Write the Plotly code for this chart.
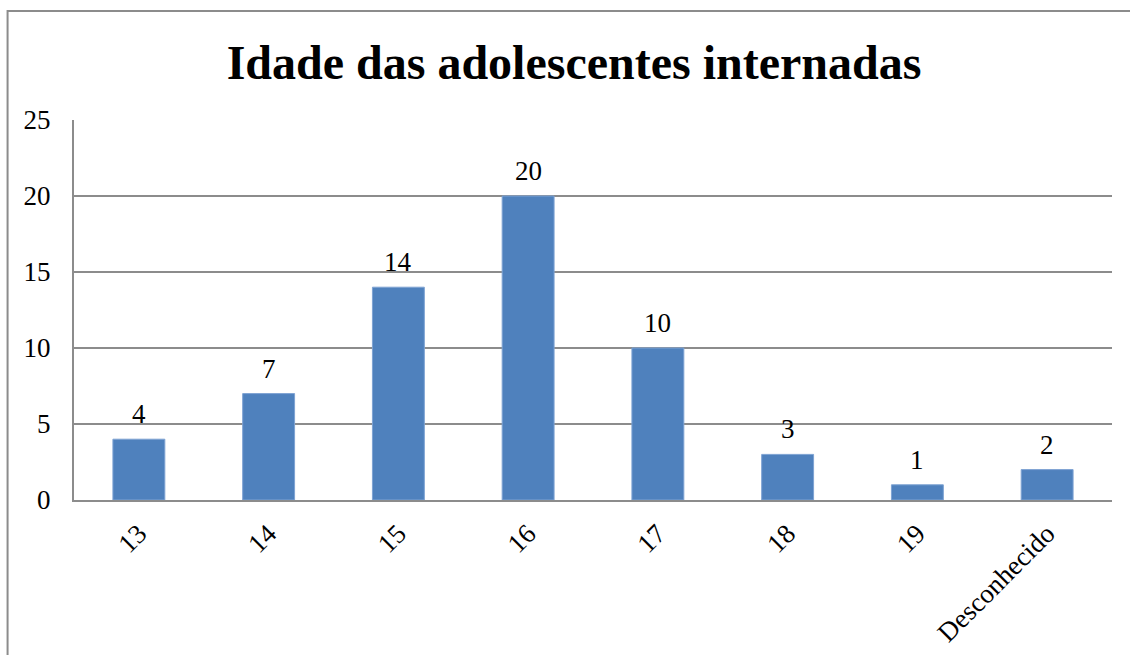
import plotly.graph_objects as go

# ============================================================
# DATA
# ============================================================

idades = ["13", "14", "15", "16", "17", "18", "19", "Desconhecido"]
quantidade = [4, 7, 14, 20, 10, 3, 1, 2]
y_ticks = [0, 5, 10, 15, 20, 25]

serif = "Liberation Serif, Times New Roman, serif"
line_gray = "#8c8c8c"

# ============================================================
# FIGURE
# ============================================================

fig = go.Figure()

fig.add_trace(
    go.Bar(
        x=idades,
        y=quantidade,
        marker=dict(color="#4f81bd", line=dict(color="#7ea3d3", width=1)),
    )
)

# value labels above the bars, with a bit of breathing room
# (category index used for x, numeric-looking names would be read as indices)
for i, n in enumerate(quantidade):
    fig.add_annotation(
        x=i,
        y=n,
        text=str(n),
        showarrow=False,
        yanchor="bottom",
        yshift=8,
        font=dict(family=serif, size=27, color="black"),
    )

fig.update_layout(
    width=1130,
    height=655,
    margin=dict(l=74, r=18, t=120, b=155),
    paper_bgcolor="white",
    plot_bgcolor="white",
    showlegend=False,
    bargap=0.6,
    title=dict(
        text="<b>Idade das adolescentes internadas</b>",
        font=dict(family=serif, size=48, color="black"),
        x=0.508,
        xanchor="center",
        y=0.879,
        yanchor="bottom",
    ),
    font=dict(family=serif, color="black"),
)

fig.update_xaxes(
    type="category",
    range=[-0.5, len(idades) - 0.5],
    tickangle=-45,
    tickfont=dict(family=serif, size=27, color="black"),
    showline=True,
    linecolor=line_gray,
    linewidth=2,
    showgrid=False,
    ticks="",
    ticklabelstandoff=5,
    automargin=False,
)

fig.update_yaxes(
    range=[0, 25],
    tickvals=y_ticks,
    tickfont=dict(family=serif, size=27, color="black"),
    showgrid=True,
    gridcolor=line_gray,
    gridwidth=2,
    showline=True,
    linecolor=line_gray,
    linewidth=2,
    zeroline=False,
    ticks="",
    ticklabelstandoff=16,
    automargin=False,
)

# outer chart frame (right and bottom edges fall outside the page)
fig.add_shape(
    type="rect",
    xref="paper",
    yref="paper",
    x0=-0.064,
    x1=1.2,
    y0=-1.0,
    y1=1.287,
    line=dict(color=line_gray, width=2),
    layer="below",
)

# drop the browser's default 8px body margin so the figure fills the window
fig.write_html(
    "out.html",
    config={"displayModeBar": False},
    post_script="document.body.style.margin='0'; document.body.style.overflow='hidden';",
)
